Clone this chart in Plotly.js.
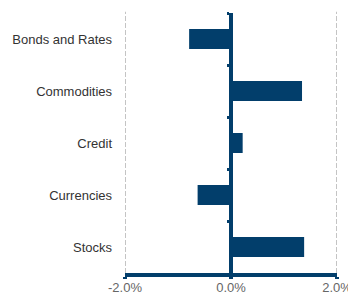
<!DOCTYPE html>
<html>
<head>
<meta charset="utf-8">
<script src="https://cdn.plot.ly/plotly-3.0.1.min.js"></script>
<style>html,body{margin:0;padding:0;background:#fff;}#chart{width:348px;height:296px;}</style>
</head>
<body>
<div id="chart"></div>
<script>
const categories = ["Bonds and Rates", "Commodities", "Credit", "Currencies", "Stocks"];
const values = [-0.79, 1.34, 0.22, -0.63, 1.38];
const xTickVals = [-2, 0, 2];
const xTickText = ["-2.0%", "0.0%", "2.0%"];

const navy = "#023e6b";

const traces = [
  {
    type: "bar", orientation: "h",
    x: values, y: categories,
    marker: {color: navy, line: {width: 0}},
    hoverinfo: "x+y", xaxis: "x", yaxis: "y"
  },
  {
    type: "bar", orientation: "h",
    x: values, y: categories,
    marker: {color: "rgba(0,0,0,0)"},
    hoverinfo: "skip", showlegend: false, xaxis: "x", yaxis: "y2"
  }
];

const gridShapes = xTickVals.filter(v => v !== 0).map(v => ({
  type: "line", xref: "x", yref: "paper",
  x0: v, x1: v, y0: 0, y1: 1.005,
  line: {color: "#c4c4c4", width: 2, dash: "5px,2px"},
  layer: "below"
}));

const layout = {
  width: 348, height: 296,
  margin: {l: 125, r: 11, t: 13, b: 23},
  paper_bgcolor: "#fff", plot_bgcolor: "#fff",
  showlegend: false,
  bargap: 0.615,
  font: {family: "Liberation Sans, Arial, sans-serif", size: 13, color: "#333"},
  shapes: gridShapes,
  xaxis: {
    range: [-2, 2],
    tickvals: xTickVals, ticktext: xTickText,
    showgrid: false,
    zeroline: true, zerolinecolor: navy, zerolinewidth: 4,
    showline: true, linecolor: navy, linewidth: 4,
    ticks: "outside", ticklen: 2, tickwidth: 4, tickcolor: navy,
    tickfont: {size: 13, color: "#666"},
    ticklabelstandoff: -3,
    ticklabeloverflow: "allow",
    fixedrange: true
  },
  yaxis: {
    type: "category", autorange: "reversed",
    showgrid: false, zeroline: false, showline: false,
    ticks: "", ticklabelstandoff: 12,
    tickfont: {size: 13, color: "#333"},
    fixedrange: true
  },
  yaxis2: {
    type: "category", autorange: "reversed",
    overlaying: "y", anchor: "free", position: 0.5, side: "left",
    showgrid: false, zeroline: false,
    showline: true, linecolor: navy, linewidth: 4,
    showticklabels: false,
    ticks: "outside", tickson: "boundaries", ticklen: 2, tickwidth: 3, tickcolor: navy,
    fixedrange: true
  }
};

Plotly.newPlot("chart", traces, layout, {displayModeBar: false, staticPlot: true});
</script>
</body>
</html>
